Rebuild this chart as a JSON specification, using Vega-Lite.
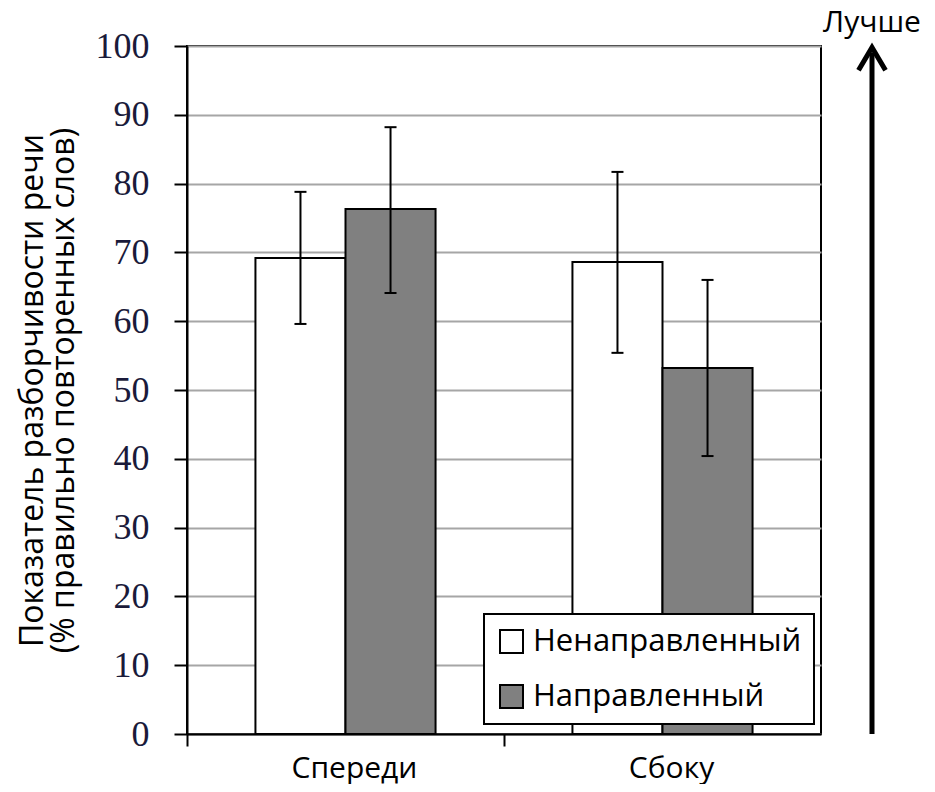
{
  "$schema": "https://vega.github.io/schema/vega-lite/v6.json",
  "padding": {"left": 15, "top": 7, "right": 0, "bottom": 0},
  "background": "white",
  "spacing": 0,
  "datasets": {
    "bars": [
      {"pos": "Спереди", "type": "Ненаправленный", "value": 69.2, "lo": 59.6, "hi": 78.8},
      {"pos": "Спереди", "type": "Направленный", "value": 76.3, "lo": 64.1, "hi": 88.2},
      {"pos": "Сбоку", "type": "Ненаправленный", "value": 68.6, "lo": 55.4, "hi": 81.7},
      {"pos": "Сбоку", "type": "Направленный", "value": 53.2, "lo": 40.4, "hi": 66.0}
    ],
    "arrow": [
      {"label": "Лучше", "start": 0, "end": 99, "tip": 99.8, "labelPos": 103.4}
    ]
  },
  "hconcat": [
    {
      "width": 634,
      "height": 688,
      "data": {"name": "bars"},
      "encoding": {
        "x": {
          "field": "pos", "type": "nominal", "sort": ["Спереди", "Сбоку"],
          "scale": {"paddingInner": 0, "paddingOuter": 0},
          "axis": {
            "title": null, "bandPosition": 0, "labelAngle": 0, "labelOffset": 9,
            "labelFont": "Open Sans", "labelFontSize": 30, "labelColor": "black",
            "labelPadding": 7, "tickSize": 12, "tickWidth": 2, "tickColor": "black",
            "domainColor": "black", "domainWidth": 2, "grid": false
          }
        },
        "xOffset": {
          "field": "type", "type": "nominal", "sort": ["Ненаправленный", "Направленный"],
          "scale": {"paddingOuter": 0.76, "paddingInner": 0}
        }
      },
      "layer": [
        {
          "mark": {"type": "bar", "stroke": "black", "strokeWidth": 2},
          "encoding": {
            "y": {
              "field": "value", "type": "quantitative", "scale": {"domain": [0, 100]},
              "title": ["Показатель разборчивости речи", "(% правильно повторенных слов)"]
            },
            "fill": {
              "field": "type", "type": "nominal",
              "scale": {"domain": ["Ненаправленный", "Направленный"], "range": ["white", "#808080"]},
              "legend": {
                "title": null, "orient": "none", "legendX": 297, "legendY": 568,
                "strokeColor": "black", "fillColor": "white", "padding": 12,
                "symbolType": "square", "symbolSize": 529, "symbolStrokeColor": "black",
                "symbolStrokeWidth": 2, "labelFont": "Open Sans", "labelFontSize": 31,
                "labelColor": "black", "labelOffset": 6, "rowPadding": 23, "labelLimit": 400,
                "encode": {"legend": {"update": {"strokeWidth": {"value": 2}}}}
              }
            }
          }
        },
        {
          "mark": {"type": "rule", "strokeWidth": 2, "color": "black"},
          "encoding": {
            "y": {"field": "lo", "type": "quantitative", "title": ["Показатель разборчивости речи", "(% правильно повторенных слов)"]},
            "y2": {"field": "hi"}
          }
        },
        {
          "mark": {"type": "tick", "thickness": 2, "size": 12, "color": "black", "opacity": 1},
          "encoding": {"y": {"field": "lo", "type": "quantitative", "title": ["Показатель разборчивости речи", "(% правильно повторенных слов)"]}}
        },
        {
          "mark": {"type": "tick", "thickness": 2, "size": 12, "color": "black", "opacity": 1},
          "encoding": {"y": {"field": "hi", "type": "quantitative", "title": ["Показатель разборчивости речи", "(% правильно повторенных слов)"]}}
        }
      ]
    },
    {
      "width": 100,
      "height": 688,
      "view": {"stroke": null},
      "data": {"name": "arrow"},
      "layer": [
        {
          "mark": {"type": "rule", "strokeWidth": 5, "color": "black"},
          "encoding": {
            "y": {"field": "start", "type": "quantitative", "scale": {"domain": [0, 100]}, "axis": null},
            "y2": {"field": "end"}
          }
        },
        {
          "mark": {"type": "point", "shape": "M-1,1.7L0,0L1,1.7", "filled": false, "stroke": "black", "strokeWidth": 5, "size": 729, "opacity": 1, "strokeJoin": "miter"},
          "encoding": {
            "y": {"field": "tip", "type": "quantitative", "scale": {"domain": [0, 100]}, "axis": null}
          }
        },
        {
          "mark": {"type": "text", "font": "Open Sans", "fontSize": 30, "color": "black", "baseline": "middle"},
          "encoding": {
            "y": {"field": "labelPos", "type": "quantitative", "scale": {"domain": [0, 100]}, "axis": null},
            "text": {"field": "label"}
          }
        }
      ]
    }
  ],
  "config": {
    "view": {"stroke": "black", "strokeWidth": 2},
    "axisY": {
      "labelFont": "Liberation Serif", "labelFontSize": 36, "labelColor": "#1a1a3a",
      "labelPadding": 25, "tickSize": 13, "tickWidth": 2, "tickColor": "black",
      "domainColor": "black", "domainWidth": 2, "gridColor": "#a6a6a6", "gridWidth": 2,
      "tickCount": 10, "titleFont": "Open Sans", "titleFontSize": 32, "titleFontWeight": "normal",
      "titleColor": "black", "titlePadding": 15, "titleLineHeight": 31
    }
  }
}
